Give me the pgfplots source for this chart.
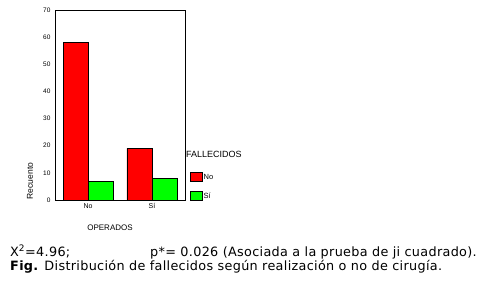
\documentclass[border=0pt]{standalone}
\usepackage{pgfplots}
\pgfplotsset{compat=1.18}
\usepackage{fontspec}
\setmainfont{Liberation Sans}
\newfontfamily\verd[LetterSpace=2.5]{DejaVu Sans}
\definecolor{barred}{RGB}{255,0,0}
\definecolor{bargreen}{RGB}{0,255,0}
\begin{document}
\begin{tikzpicture}
\path[use as bounding box] (0pt,0pt) rectangle (490pt,-281pt);
\begin{axis}[
  at={(55pt,-200pt)}, anchor=south west,
  scale only axis, width=130pt, height=190pt,
  xmin=-0.516, xmax=1.516, ymin=0, ymax=70,
  ytick={0,10,...,70}, xtick={0,1}, xticklabels={No,Sí},
  major tick length=0pt,
  axis line style={line width=0.9pt},
  /pgf/number format/assume math mode=true,
  yticklabel style={font=\fontsize{6.5}{7}\selectfont, xshift=-1pt},
  xticklabel style={font=\fontsize{7}{8}\selectfont, yshift=0pt},
  ybar=0pt, bar width=25pt,
  every axis plot/.append style={draw=black, line width=0.8pt},
  clip=false,
]
\addplot[fill=barred] coordinates {(0,58) (1,19)};
\addplot[fill=bargreen] coordinates {(0,7) (1,8)};
\end{axis}
% y label
\node[rotate=90, font=\fontsize{8.5}{10}\selectfont] at (30pt,-181pt) {Recuento};
% x label
\node[font=\fontsize{8}{10}\selectfont] at (110pt,-228pt) {OPERADOS};
% legend
\node[anchor=west, font=\fontsize{9}{10}\selectfont, inner sep=0pt] at (186pt,-154pt) {FALLECIDOS};
\draw[fill=barred, line width=0.8pt] (190pt,-172pt) rectangle (202pt,-181pt);
\node[anchor=west, font=\fontsize{7.5}{9}\selectfont, inner sep=0pt] at (203.5pt,-176.5pt) {No};
\draw[fill=bargreen, line width=0.8pt] (190pt,-191pt) rectangle (202pt,-200pt);
\node[anchor=west, font=\fontsize{7.5}{9}\selectfont, inner sep=0pt] at (203.5pt,-195.5pt) {Sí};
% caption
\node[anchor=base west, font=\verd\fontsize{12.8}{15}\selectfont, inner sep=0pt] at (10pt,-256pt) {X\textsuperscript{2}=4.96;};
\node[anchor=base west, font=\verd\fontsize{12.8}{15}\selectfont, inner sep=0pt] at (150pt,-256pt) {p*= 0.026 (Asociada a la prueba de ji cuadrado).};
\node[anchor=base west, font=\verd\fontsize{12.8}{15}\selectfont, inner sep=0pt] at (10pt,-270pt) {\textbf{Fig.} Distribución de fallecidos según realización o no de cirugía.};
\end{tikzpicture}
\end{document}
